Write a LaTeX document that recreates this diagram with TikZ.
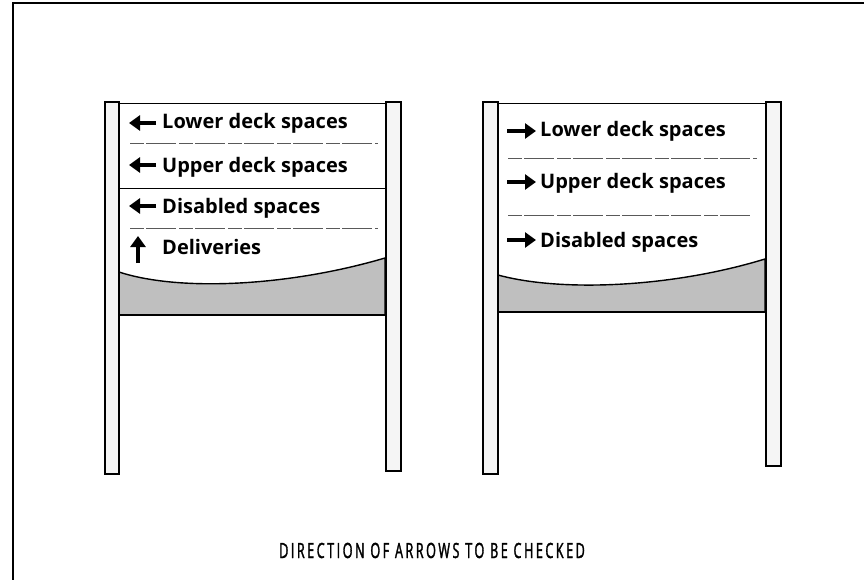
\documentclass[tikz,border=0pt]{standalone}
\usepackage{fontspec}
\setmainfont{Open Sans}
\newfontfamily\captionfont{Open Sans}[FakeStretch=0.6,LetterSpace=12,FakeBold=1.5]
\usetikzlibrary{arrows.meta}
\begin{document}
\begin{tikzpicture}[x=1pt,y=-1pt,
    post/.style={draw,line width=1.6pt,fill=gray!8},
    label/.style={anchor=base west,inner sep=0pt,font=\bfseries\fontsize{20}{22}\selectfont},
    signarrow/.style={line width=3.8pt,-{Triangle[length=11pt,width=15pt]}},
    sep/.style={gray!70!black,line width=0.8pt,dash pattern=on 14pt off 2pt on 30pt off 3pt},
    band/.style={fill=gray!50,draw=black,line width=1.4pt}]
    \useasboundingbox (0,0) rectangle (864,580);
    % frame of the sheet
    \draw[line width=1.5pt] (13,580) -- (13,3) -- (864,3);
    % left sign
    \draw[line width=0.8pt] (119,103) -- (385,103);
    \draw[band] (119,272) .. controls (180,292) and (290,286) .. (385,258) -- (385,315) -- (119,315) -- cycle;
    \draw[post] (105,102) rectangle (119,474);
    \draw[post] (386,102) rectangle (401,471);
    \draw[line width=1.4pt] (119,315) -- (386,315);
    \node[label] (lowerL) at (162,129) {Lower deck spaces};
    \node[label] (upperL) at (162,172) {Upper deck spaces};
    \node[label] (disabledL) at (162,213) {Disabled spaces};
    \node[label] (deliveries) at (162,254) {Deliveries};
    \draw[sep] (130,143) -- (378,143);
    \draw[line width=0.8pt] (119,188) -- (386,188);
    \draw[sep] (130,228) -- (378,228);
    \draw[signarrow] (156,123) -- (129,123);
    \draw[signarrow] (156,165) -- (129,165);
    \draw[signarrow] (156,206) -- (129,206);
    \draw[signarrow] (138,263) -- (138,236);
    % right sign
    \draw[line width=0.8pt] (498,103) -- (765,103);
    \draw[band] (498,275) .. controls (560,292) and (670,288) .. (765,259) -- (765,312) -- (498,312) -- cycle;
    \draw[post] (483,102) rectangle (498,474);
    \draw[post] (766,102) rectangle (781,466);
    \draw[line width=1.4pt] (498,312) -- (766,312);
    \node[label] (lowerR) at (540,137) {Lower deck spaces};
    \node[label] (upperR) at (540,189) {Upper deck spaces};
    \node[label] (disabledR) at (540,247) {Disabled spaces};
    \draw[sep] (508,158) -- (757,158);
    \draw[sep] (508,215) -- (750,215);
    \draw[signarrow] (507,131) -- (536,131);
    \draw[signarrow] (507,182) -- (536,182);
    \draw[signarrow] (507,240) -- (536,240);
    % caption
    \node[anchor=base,inner sep=0pt,font=\captionfont\fontsize{21}{21}\selectfont] (caption) at (432,558) {DIRECTION OF ARROWS TO BE CHECKED};
\end{tikzpicture}
\end{document}
